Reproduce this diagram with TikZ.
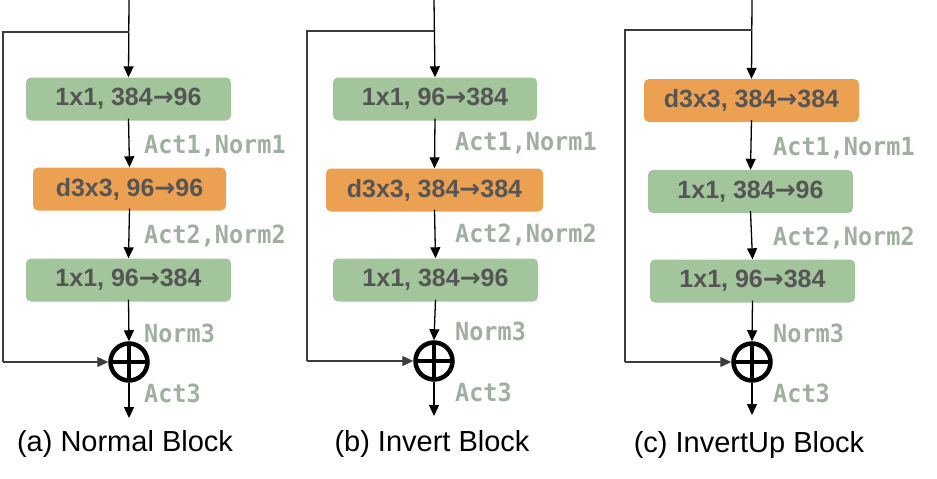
\documentclass[tikz,border=0pt]{standalone}
\usepackage{fontspec}
\setmainfont{Liberation Sans}
\newfontfamily\labfont[FakeStretch=0.94]{DejaVu Sans Mono}
\newfontfamily\symfont{DejaVu Sans}
\newcommand\arr{{\symfont\bfseries →}}
\usetikzlibrary{arrows.meta}
\definecolor{gfill}{HTML}{A2C59B}
\definecolor{ofill}{HTML}{ECA052}
\definecolor{btext}{HTML}{555555}
\definecolor{ltext}{HTML}{A1AFA1}
\definecolor{skipc}{HTML}{3C3C3C}
\begin{document}
\begin{tikzpicture}[x=1pt,y=-1pt,
  gbox/.style={fill=gfill,rounded corners=5pt,inner sep=0pt,minimum height=43pt,
     font=\fontsize{25}{25}\selectfont\bfseries,text=btext},
  obox/.style={gbox,fill=ofill},
  lab/.style={anchor=west,inner sep=0pt,font=\labfont\fontsize{25}{25}\selectfont\bfseries,text=ltext},
  captext/.style={inner sep=0pt,font=\fontsize{29}{29}\selectfont},
  flow/.style={line width=1.3pt,-{Triangle[length=11pt,width=10pt]}},
  skipline/.style={line width=1.2pt,draw=skipc},
  plus/.style={circle,draw,line width=4.5pt,minimum size=37pt,inner sep=0pt,
     path picture={\draw[line width=4pt] (path picture bounding box.north) -- (path picture bounding box.south)
       (path picture bounding box.west) -- (path picture bounding box.east);}}
]
\useasboundingbox (0,0) rectangle (937,479);

% ---------- (a) ----------
\coordinate (ain) at (129,0);
\coordinate (abr) at (129,32);
\coordinate (atl) at (3,32);
\node[gbox,minimum width=205pt] (a1) at (128.5,99) {1x1, 384\arr96};
\node[obox,minimum width=193pt] (a2) at (129.5,189) {d3x3, 96\arr96};
\node[gbox,minimum width=205pt] (a3) at (128.5,280) {1x1, 96\arr384};
\node[plus] (ap) at (129,362) {};
\coordinate (abl) at (3,362);
\coordinate (aout) at (129,418);
\draw[flow] (ain) -- (a1.north);
\draw[skipline] (abr) -- (atl) -- (abl);
\draw[flow,skipc] (abl) -- (ap.west);
\draw[flow] ([yshift=2pt]a1.south) -- (a2.north);
\draw[flow] ([yshift=2pt]a2.south) -- (a3.north);
\draw[flow] ([yshift=2pt]a3.south) -- (ap.north);
\draw[flow] (ap.south) -- (aout);
\node[lab] (al1) at (144,146) {Act1,Norm1};
\node[lab] (al2) at (144,236) {Act2,Norm2};
\node[lab] (al3) at (144,333) {Norm3};
\node[lab] (al4) at (144,393) {Act3};
\node[captext] (acap) at (125,444) {(a) Normal Block};

% ---------- (b) ----------
\coordinate (bin) at (434,0);
\coordinate (bbr) at (434,31);
\coordinate (btl) at (307,31);
\node[gbox,minimum width=204pt] (b1) at (435,99) {1x1, 96\arr384};
\node[obox,minimum width=217pt] (b2) at (434.5,190) {d3x3, 384\arr384};
\node[gbox,minimum width=205pt] (b3) at (435.5,280) {1x1, 384\arr96};
\node[plus] (bp) at (434,361) {};
\coordinate (bbl) at (307,361);
\coordinate (bout) at (434,416);
\draw[flow] (bin) -- (b1.north);
\draw[skipline] (bbr) -- (btl) -- (bbl);
\draw[flow,skipc] (bbl) -- (bp.west);
\draw[flow] ([yshift=2pt]b1.south) -- (b2.north);
\draw[flow] ([yshift=2pt]b2.south) -- (b3.north);
\draw[flow] ([yshift=2pt]b3.south) -- (bp.north);
\draw[flow] (bp.south) -- (bout);
\node[lab] (bl1) at (455,143) {Act1,Norm1};
\node[lab] (bl2) at (455,235) {Act2,Norm2};
\node[lab] (bl3) at (455,331) {Norm3};
\node[lab] (bl4) at (455,392) {Act3};
\node[captext] (bcap) at (432,444) {(b) Invert Block};

% ---------- (c) ----------
\coordinate (cin) at (752,0);
\coordinate (cbr) at (752,30);
\coordinate (ctl) at (625,30);
\node[obox,minimum width=215pt] (c1) at (751.5,100.5) {d3x3, 384\arr384};
\node[gbox,minimum width=205pt] (c2) at (750.5,191.5) {1x1, 384\arr96};
\node[gbox,minimum width=205pt] (c3) at (752.5,281) {1x1, 96\arr384};
\node[plus] (cp) at (752,362) {};
\coordinate (cbl) at (625,362);
\coordinate (cout) at (752,415);
\draw[flow] (cin) -- (c1.north);
\draw[skipline] (cbr) -- (ctl) -- (cbl);
\draw[flow,skipc] (cbl) -- (cp.west);
\draw[flow] ([yshift=2pt]c1.south) -- (c2.north);
\draw[flow] ([yshift=2pt]c2.south) -- (c3.north);
\draw[flow] ([yshift=2pt]c3.south) -- (cp.north);
\draw[flow] (cp.south) -- (cout);
\node[lab] (cl1) at (773,148) {Act1,Norm1};
\node[lab] (cl2) at (773,238) {Act2,Norm2};
\node[lab] (cl3) at (773,333) {Norm3};
\node[lab] (cl4) at (773,393) {Act3};
\node[captext] (ccap) at (749,445) {(c) InvertUp Block};
\end{tikzpicture}
\end{document}
